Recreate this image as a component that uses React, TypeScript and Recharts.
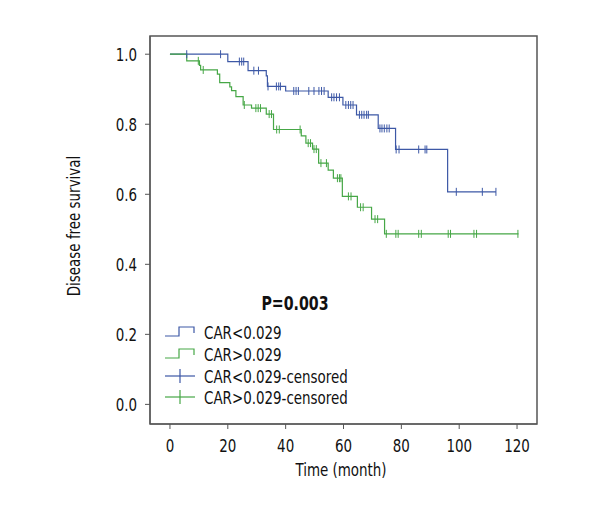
import { ComposedChart, Line, Scatter, XAxis, YAxis, ReferenceArea } from 'recharts';

// Kaplan-Meier steps (time in months, survival)
const blueStepT = [0, 20, 27, 33.3, 33.7, 40, 54.7, 59.8, 64.5, 72, 78, 96, 112.7];
const blueStepS = [1.0, 0.979, 0.953, 0.938, 0.908, 0.895, 0.877, 0.855, 0.827, 0.788, 0.728, 0.607, 0.607];
const blueCensored = [
  5.8, 17.5, 24, 24.8, 25.5, 29, 30.6, 33.9, 36.8, 37.6, 38.2, 42.8, 43.6, 44.4, 48, 49.8, 51.5, 52.4, 53.3,
  55.9, 56.7, 57.6, 58.6, 60.8, 61.7, 62.5, 63.3, 65.5, 66.3, 67.1, 68, 68.6, 72.6, 73.3, 74.1, 75, 75.8,
  78.2, 79.2, 86, 88.2, 88.8, 99, 108, 112.7,
];

const greenStepT = [
  0, 5.8, 10.2, 10.6, 16.4, 17.2, 20.7, 21.3, 22.8, 25.3, 28.2, 33.3, 35.8, 45.4, 47.0, 49.3, 51.4, 54.7,
  56.5, 59.6, 64.8, 69.7, 74.2, 120.5,
];
const greenStepS = [
  1.0, 0.981, 0.968, 0.955, 0.943, 0.919, 0.907, 0.896, 0.879, 0.855, 0.846, 0.829, 0.785, 0.767, 0.746,
  0.729, 0.689, 0.669, 0.646, 0.594, 0.563, 0.529, 0.487, 0.487,
];
const greenCensored = [
  9.8, 11.5, 25.7, 29.7, 30.5, 31.3, 34.3, 35.1, 36.9, 37.8, 45.0, 47.8, 48.6, 49.8, 50.6, 52.2, 54.1,
  57.9, 58.6, 59.1, 61.7, 62.6, 65.9, 66.8, 70.9, 71.8, 74.8, 78.1, 78.9, 86.0, 86.9, 96.2, 97.0, 105.1,
  106.0, 120.3,
];

const xTicks = [0, 20, 40, 60, 80, 100, 120];
const yTicks = [0, 0.2, 0.4, 0.6, 0.8, 1.0];
const legendLabels = ['CAR<0.029', 'CAR>0.029', 'CAR<0.029-censored', 'CAR>0.029-censored'];
const pValue = 'P=0.003';
const xTitle = 'Time (month)';
const yTitle = 'Disease free survival';

const BLUE = '#3d58a6';
const GREEN = '#46a746';
const AXIS = '#555';
const INK = '#111';
const FONT = "'DejaVu Sans Condensed', 'DejaVu Sans', sans-serif";
const SQUEEZE = 0.83; // the original uses a condensed face

const toSteps = (ts: number[], ss: number[]) => ts.map((t, i) => ({ t, s: ss[i] }));

// survival level of the curve at a censoring time
const levelAt = (ts: number[], ss: number[], t: number) => {
  let s = ss[0];
  for (let i = 0; i < ts.length; i++) if (ts[i] <= t) s = ss[i];
  return s;
};

const blueData = toSteps(blueStepT, blueStepS);
const greenData = toSteps(greenStepT, greenStepS);
const blueCens = blueCensored.map(t => ({ t, s: levelAt(blueStepT, blueStepS, t) }));
const greenCens = greenCensored.map(t => ({ t, s: levelAt(greenStepT, greenStepS, t) }));

const censorMark = (color: string) => (props: any) => {
  const { cx, cy } = props;
  return <line x1={cx} x2={cx} y1={cy - 4} y2={cy + 4} stroke={color} strokeWidth={1} />;
};

function Narrow({ x, y, anchor, dy, rotate = 0, size = 18, bold = false, children }: any) {
  return (
    <text
      transform={`translate(${x},${y}) rotate(${rotate}) scale(${SQUEEZE},1)`}
      textAnchor={anchor}
      dy={dy}
      fontFamily={FONT}
      fontSize={size}
      fontWeight={bold ? 'bold' : 'normal'}
      fill={INK}
    >
      {children}
    </text>
  );
}

const XTick = (props: any) => (
  <Narrow x={props.x} y={props.y} anchor="middle" dy="0.71em">
    {props.payload.value}
  </Narrow>
);

const YTick = (props: any) => (
  <Narrow x={props.x} y={props.y} anchor="end" dy="0.36em">
    {Number(props.payload.value).toFixed(1)}
  </Narrow>
);

function KmLegend() {
  const rows = [331, 353, 375, 396];
  const colors = [BLUE, GREEN, BLUE, GREEN];
  return (
    <g>
      <Narrow x={287} y={302} anchor="middle" size={19} bold>
        {pValue}
      </Narrow>
      <Narrow x={333} y={468} anchor="middle">
        {xTitle}
      </Narrow>
      <Narrow x={72} y={218} anchor="middle" rotate={-90}>
        {yTitle}
      </Narrow>
      {legendLabels.map((label, i) => {
        const c = rows[i] - 7;
        const color = colors[i];
        return (
          <g key={label}>
            {i < 2 ? (
              <polyline
                points={`157,${c + 4} 171,${c + 4} 171,${c - 5} 186,${c - 5} 186,${c + 1}`}
                fill="none"
                stroke={color}
                strokeWidth={1.2}
              />
            ) : (
              <g stroke={color} strokeWidth={1.2}>
                <line x1={157} x2={187} y1={c} y2={c} />
                <line x1={172} x2={172} y1={c - 7} y2={c + 7} />
              </g>
            )}
            <Narrow x={196} y={rows[i]} anchor="start">
              {label}
            </Narrow>
          </g>
        );
      })}
    </g>
  );
}

export default function App() {
  return (
    <ComposedChart width={584} height={504} margin={{ top: 28, right: 55, left: 62, bottom: 28 }}>
      <XAxis
        type="number"
        dataKey="t"
        domain={[-6.9, 126.9]}
        ticks={xTicks}
        allowDataOverflow
        height={60}
        tickSize={5}
        tickMargin={10}
        stroke={AXIS}
        tick={XTick}
      />
      <YAxis
        type="number"
        dataKey="s"
        domain={[-0.056, 1.052]}
        ticks={yTicks}
        allowDataOverflow
        width={80}
        tickSize={5}
        tickMargin={8}
        stroke={AXIS}
        tick={YTick}
      />
      <ReferenceArea x1={-6.9} x2={126.9} y1={-0.056} y2={1.052} fill="none" stroke={AXIS} strokeWidth={1.5} />
      <Line data={blueData} dataKey="s" type="stepAfter" stroke={BLUE} strokeWidth={1.2} dot={false} isAnimationActive={false} />
      <Line data={greenData} dataKey="s" type="stepAfter" stroke={GREEN} strokeWidth={1.2} dot={false} isAnimationActive={false} />
      <Scatter data={blueCens} dataKey="s" shape={censorMark(BLUE)} isAnimationActive={false} />
      <Scatter data={greenCens} dataKey="s" shape={censorMark(GREEN)} isAnimationActive={false} />
      <KmLegend />
    </ComposedChart>
  );
}
